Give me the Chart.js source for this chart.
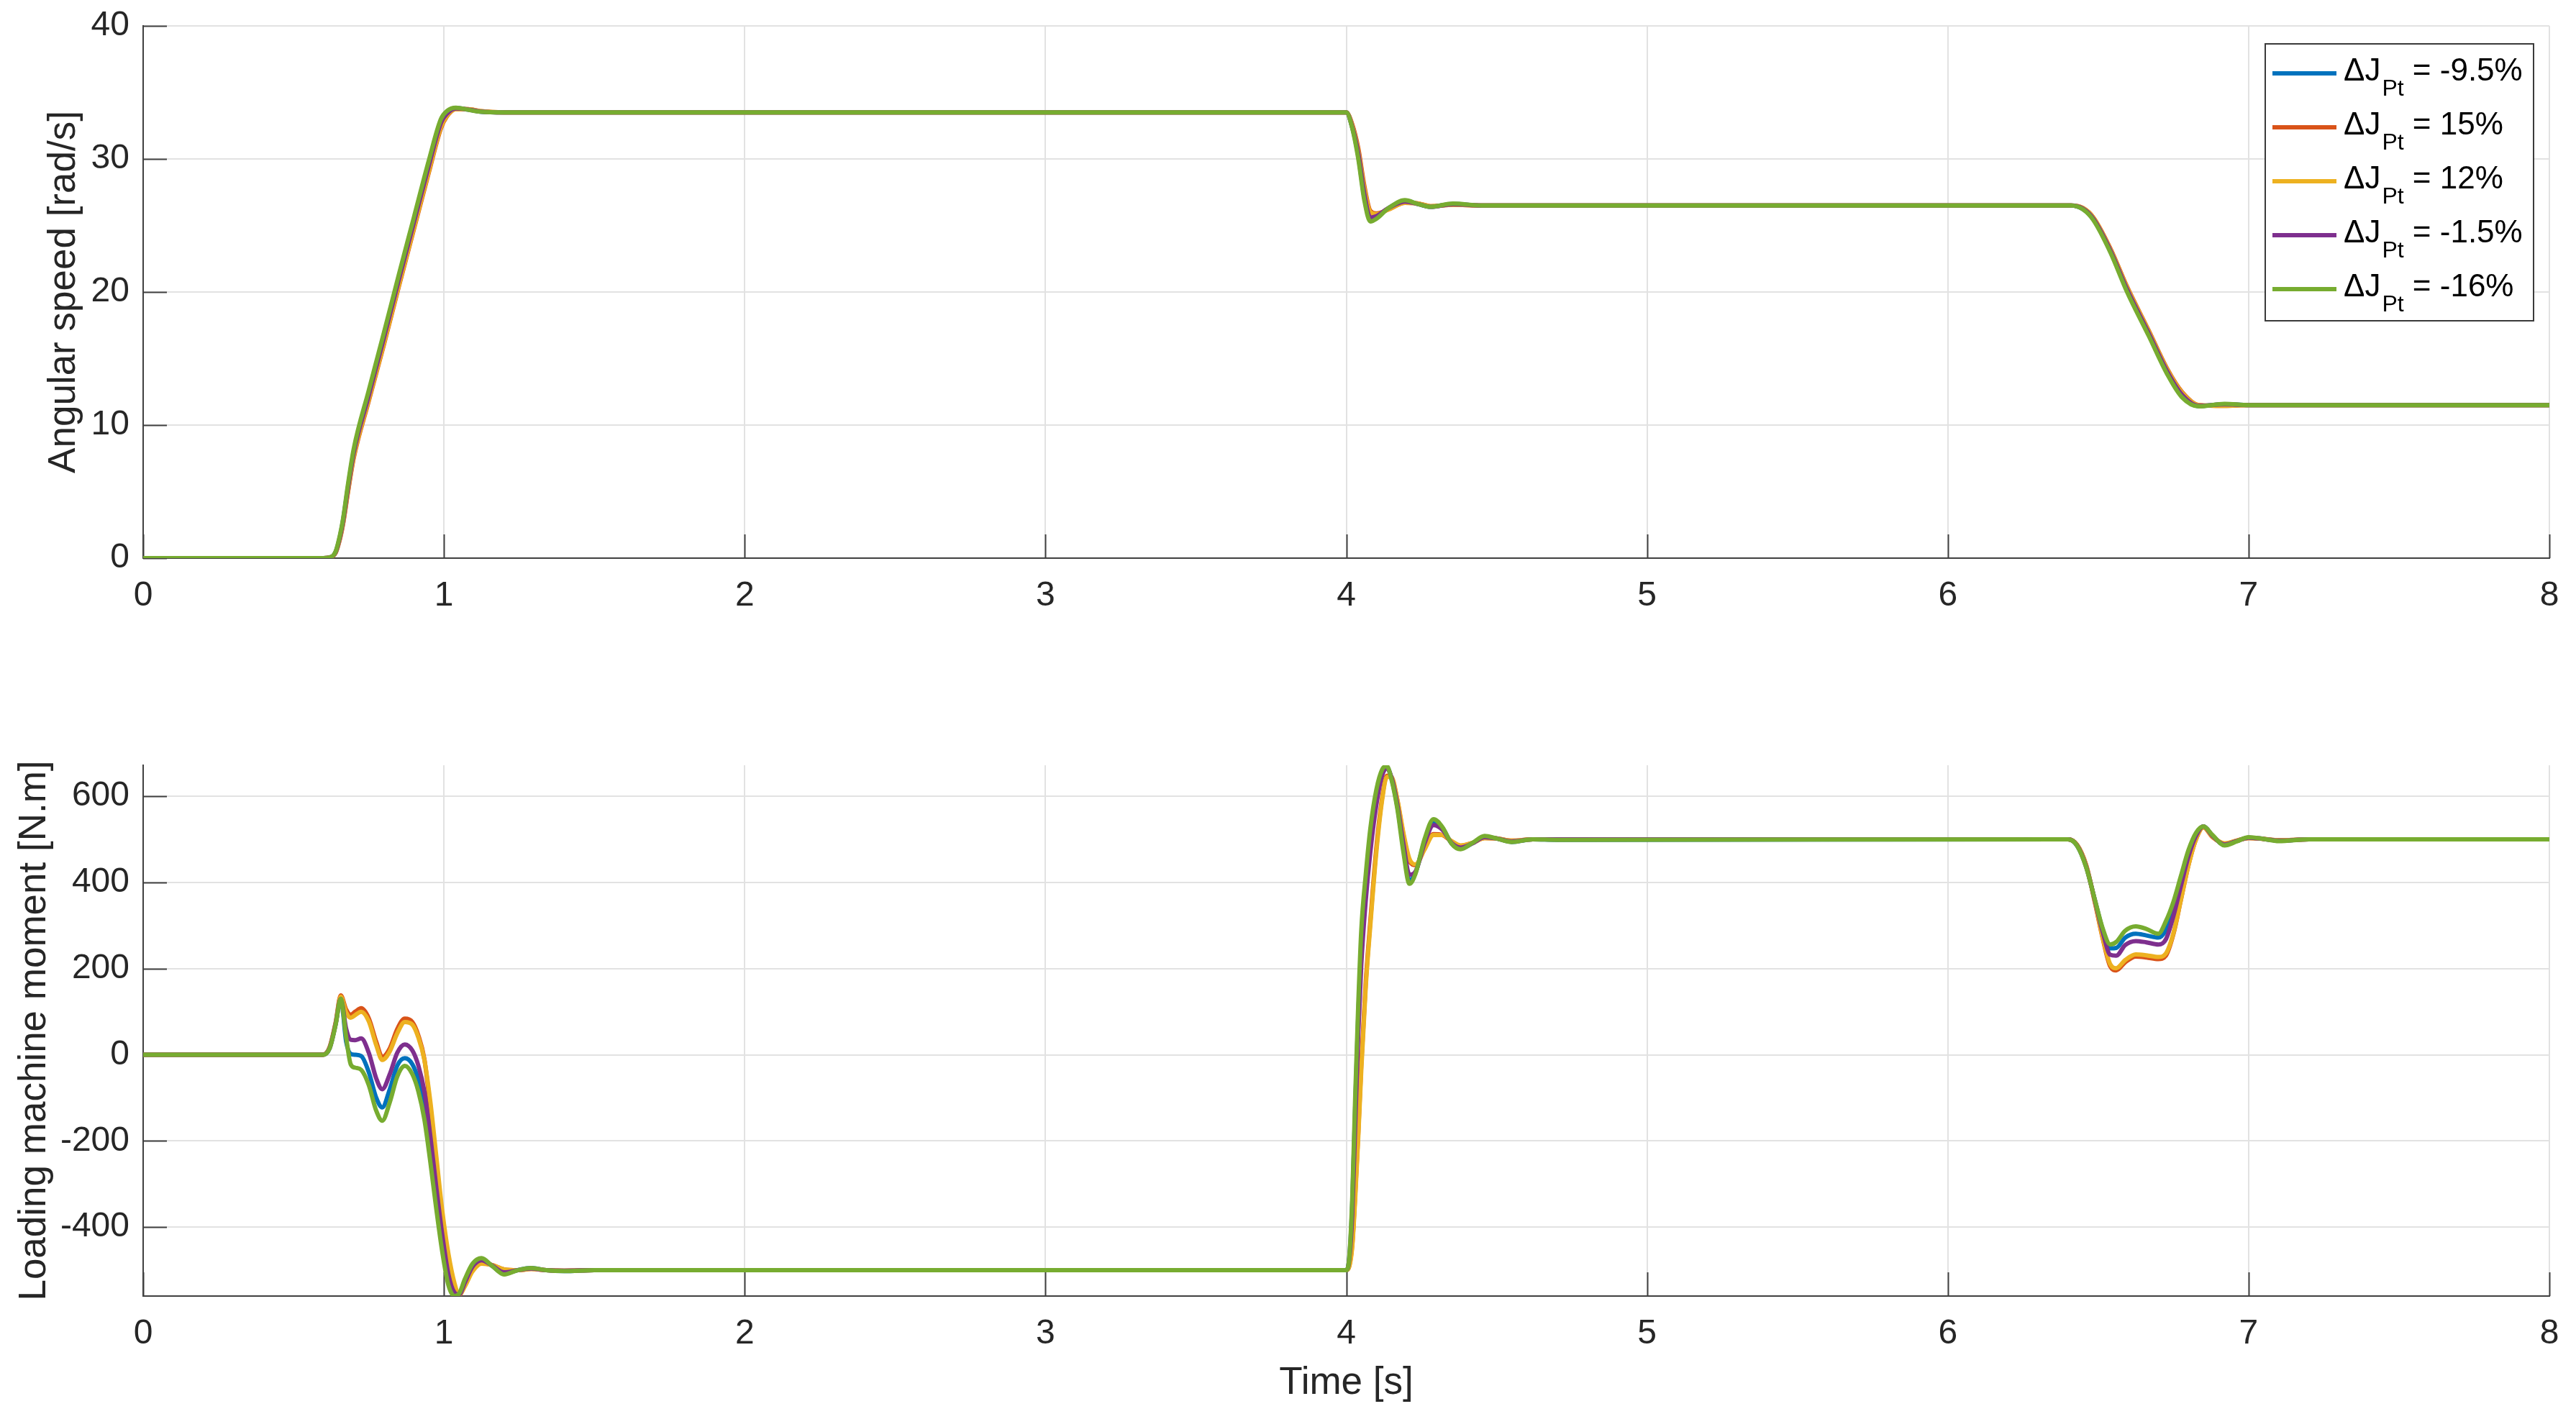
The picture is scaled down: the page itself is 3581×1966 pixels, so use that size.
<!DOCTYPE html>
<html>
<head>
<meta charset="utf-8">
<title>Angular speed / loading machine moment</title>
<script src="https://cdn.jsdelivr.net/npm/chart.js@4.4.1/dist/chart.umd.min.js"></script>
<style>
  html, body { margin: 0; padding: 0; background: #fff; overflow: hidden; }
  canvas { position: absolute; left: 0; }
  #speed { top: 0; }
  #moment { top: 983px; }
</style>
</head>
<body>
<canvas id="speed" width="3581" height="983"></canvas>
<canvas id="moment" width="3581" height="983"></canvas>
<script>
// --- Data ------------------------------------------------------------------
const seriesLabels = ['-9.5%', '15%', '12%', '-1.5%', '-16%'];
const seriesColors = ['#0072BD', '#D95319', '#EDB120', '#7E2F8E', '#77AC30'];

const timeTicks = [0, 1, 2, 3, 4, 5, 6, 7, 8];
const speedTicks = [0, 10, 20, 30, 40];
const momentTicks = [-400, -200, 0, 200, 400, 600];

// Angular speed [rad/s]
const tSpeed = [0, 0.60, 0.62, 0.64, 0.655, 0.665, 0.68, 0.70, 0.75, 0.80, 0.85, 0.90, 0.95, 0.99, 1.01,
  1.04, 1.08, 1.12, 1.2, 4.0, 4.02, 4.04, 4.06, 4.08, 4.10, 4.14, 4.195, 4.24, 4.28, 4.355, 4.45,
  6.41, 6.45, 6.484, 6.54, 6.596, 6.668, 6.73, 6.778, 6.835, 6.92, 7.0, 8.0];
const speedBlue = [0, 0, 0.05, 0.47, 1.7, 2.9, 5.2, 8.0, 12.4, 16.7, 21.1, 25.4, 29.7, 32.85, 33.5,
  33.82, 33.71, 33.56, 33.5, 33.5, 32.35, 30.2, 27.1, 25.45, 25.6, 26.3, 26.85, 26.6, 26.4, 26.62, 26.5,
  26.5, 26.22, 25.45, 23.1, 20.1, 16.8, 13.9, 12.2, 11.42, 11.57, 11.5, 11.5];
const speedOrange = [0, 0, 0.04, 0.4, 1.5, 2.6, 4.8, 7.5, 11.8, 16.0, 20.4, 24.7, 29.0, 32.3, 33.2,
  33.75, 33.75, 33.6, 33.5, 33.5, 32.6, 30.8, 28.0, 26.1, 25.9, 26.2, 26.7, 26.65, 26.45, 26.55, 26.5,
  26.5, 26.3, 25.6, 23.3, 20.4, 17.1, 14.2, 12.5, 11.5, 11.45, 11.5, 11.5];
const speedYellow = [0, 0, 0.04, 0.42, 1.55, 2.65, 4.9, 7.6, 11.9, 16.1, 20.5, 24.8, 29.1, 32.4, 33.25,
  33.75, 33.75, 33.6, 33.5, 33.5, 32.5, 30.6, 27.8, 26.0, 25.85, 26.2, 26.7, 26.65, 26.45, 26.55, 26.5,
  26.5, 26.3, 25.6, 23.25, 20.35, 17.05, 14.15, 12.45, 11.5, 11.45, 11.5, 11.5];
const speedPurple = [0, 0, 0.05, 0.45, 1.65, 2.8, 5.1, 7.9, 12.2, 16.5, 20.9, 25.2, 29.5, 32.7, 33.4,
  33.8, 33.72, 33.57, 33.5, 33.5, 32.4, 30.4, 27.4, 25.6, 25.7, 26.3, 26.8, 26.6, 26.4, 26.6, 26.5,
  26.5, 26.25, 25.5, 23.15, 20.2, 16.9, 14.0, 12.3, 11.45, 11.55, 11.5, 11.5];
const speedGreen = [0, 0, 0.05, 0.5, 1.8, 3.0, 5.4, 8.2, 12.6, 16.9, 21.3, 25.6, 29.9, 33.0, 33.6,
  33.85, 33.7, 33.55, 33.5, 33.5, 32.3, 30.0, 26.9, 25.3, 25.5, 26.3, 26.9, 26.6, 26.4, 26.65, 26.5,
  26.5, 26.2, 25.4, 23.0, 20.0, 16.7, 13.8, 12.1, 11.4, 11.6, 11.5, 11.5];

// Loading machine moment [N.m]
const tMoment = [0, 0.597, 0.62, 0.64, 0.657, 0.675, 0.69, 0.705, 0.725, 0.75, 0.775, 0.795, 0.82, 0.845,
  0.87, 0.895, 0.915, 0.935, 0.955, 0.975, 0.995, 1.015, 1.035, 1.05, 1.07, 1.095, 1.125, 1.16, 1.2,
  1.245, 1.29, 1.34, 1.4, 1.5,
  4.0, 4.01, 4.02, 4.03, 4.04, 4.05, 4.065, 4.08, 4.1, 4.12, 4.135, 4.15, 4.17, 4.19, 4.21, 4.23, 4.26,
  4.29, 4.32, 4.35, 4.38, 4.42, 4.46, 4.5, 4.55, 4.62, 4.7,
  6.4, 6.43, 6.46, 6.49, 6.515, 6.54, 6.56, 6.59, 6.625, 6.66, 6.7, 6.725, 6.75, 6.775, 6.8, 6.825,
  6.85, 6.88, 6.92, 6.96, 7.0, 7.05, 7.1, 7.2, 8.0];
const momentBlue = [0, 0, 15, 71, 132, 30, 2, 0, -3, -40, -100, -122, -80, -25, -8, -22, -58, -120,
  -225, -340, -445, -525, -558, -556, -524, -488, -474, -490, -508, -500, -495, -500, -502, -500,
  -500, -472, -345, -115, 95, 260, 400, 505, 605, 660, 668, 642, 575, 480, 405, 422, 496, 541, 526,
  491, 479, 491, 506, 502, 494, 500, 499,
  500, 485, 436, 356, 290, 247, 248, 272, 281, 277, 272, 290, 340, 408, 470, 512, 530, 509, 487, 496,
  504, 501, 497, 500, 500];
const momentOrange = [0, 0, 18, 75, 138, 105, 93, 100, 108, 85, 30, -5, 15, 60, 84, 76, 45, -10,
  -125, -255, -380, -478, -540, -558, -535, -500, -484, -488, -498, -500, -497, -500, -501, -500,
  -500, -490, -440, -320, -180, -20, 170, 310, 480, 600, 648, 645, 590, 510, 450, 440, 478, 512, 510,
  495, 485, 492, 503, 502, 497, 500, 500,
  500, 487, 440, 350, 270, 205, 196, 215, 228, 226, 222, 230, 280, 360, 440, 500, 528, 505, 490, 497,
  503, 501, 498, 500, 500];
const momentYellow = [0, 0, 17, 73, 135, 98, 86, 92, 100, 78, 22, -12, 8, 50, 76, 70, 40, -12,
  -110, -238, -365, -462, -530, -557, -537, -503, -485, -488, -498, -500, -497, -500, -501, -500,
  -500, -492, -445, -330, -190, -35, 160, 300, 470, 595, 645, 645, 592, 515, 455, 442, 476, 510, 510,
  496, 486, 492, 503, 502, 497, 500, 500,
  500, 487, 440, 352, 272, 210, 201, 220, 233, 231, 227, 235, 282, 360, 440, 500, 528, 506, 491, 497,
  503, 501, 498, 500, 500];
const momentPurple = [0, 0, 16, 72, 130, 60, 35, 34, 38, 5, -55, -80, -45, 5, 24, 10, -25, -85,
  -190, -310, -420, -510, -552, -557, -528, -492, -477, -489, -505, -500, -496, -500, -501, -500,
  -500, -475, -370, -160, 50, 210, 360, 470, 580, 650, 665, 645, 580, 490, 418, 425, 490, 533, 522,
  492, 481, 491, 505, 502, 495, 500, 500,
  500, 486, 437, 355, 285, 232, 230, 255, 264, 261, 256, 268, 322, 392, 460, 508, 530, 508, 488, 496,
  504, 501, 497, 500, 500];
const momentGreen = [0, 0, 15, 70, 130, 40, -22, -30, -35, -70, -130, -153, -110, -50, -26, -45, -85, -150,
  -250, -360, -460, -535, -560, -555, -520, -485, -472, -490, -510, -500, -495, -500, -502, -500,
  -500, -470, -330, -90, 120, 290, 420, 525, 615, 663, 670, 640, 570, 470, 397, 420, 500, 547, 528,
  490, 477, 492, 508, 502, 494, 500, 499,
  500, 485, 435, 357, 293, 256, 262, 288, 298, 292, 281, 310, 355, 415, 475, 515, 530, 510, 486, 495,
  505, 501, 496, 500, 500];

// --- Style -----------------------------------------------------------------
const Chart = window.Chart;
const FONT = '"Liberation Sans", Arial, Helvetica, sans-serif';
const TEXT = '#262626';
const AXIS = '#404040';
const GRID = '#e2e2e2';
const TICK_LEN = 33;
const LINE_W = 6;

Chart.defaults.font.family = FONT;
Chart.defaults.color = TEXT;

const toPoints = (t, vals) => t.map((x, i) => ({ x, y: vals[i] }));

// Chart.js pinta encima el dataset de menor `order`: el último (verde) queda arriba, como en MATLAB.
function datasets(t, rows) {
  return rows.map((vals, i) => ({
    label: seriesLabels[i],
    data: toPoints(t, vals),
    order: rows.length - i,
    borderColor: seriesColors[i],
    backgroundColor: seriesColors[i],
    borderWidth: LINE_W,
    pointRadius: 0,
    cubicInterpolationMode: 'monotone',
    fill: false,
  }));
}

// MATLAB-style ticks: drawn inward from the left and bottom axes.
const inwardTicks = {
  id: 'inwardTicks',
  beforeDatasetsDraw(chart) {
    const { ctx, chartArea: a, scales: { x, y } } = chart;
    ctx.save();
    ctx.strokeStyle = AXIS;
    ctx.lineWidth = 2;
    ctx.beginPath();
    y.ticks.forEach((t) => {
      const py = Math.round(y.getPixelForValue(t.value)) + 0.5;
      ctx.moveTo(a.left, py); ctx.lineTo(a.left + TICK_LEN, py);
    });
    x.ticks.forEach((t) => {
      const px = Math.round(x.getPixelForValue(t.value)) + 0.5;
      ctx.moveTo(px, a.bottom); ctx.lineTo(px, a.bottom - TICK_LEN);
    });
    ctx.stroke();
    ctx.restore();
  },
};

// Legend with ΔJ_Pt subscripts (Chart.js legend has no subscripts).
const jptLegend = {
  id: 'jptLegend',
  afterDatasetsDraw(chart, args, o) {
    if (!o.show) return;
    const { ctx } = chart;
    ctx.save();
    ctx.fillStyle = '#fff';
    ctx.fillRect(o.x, o.y, o.w, o.h);
    ctx.strokeStyle = '#3a3a3a';
    ctx.lineWidth = 2;
    ctx.strokeRect(o.x, o.y, o.w, o.h);
    ctx.textBaseline = 'alphabetic';
    ctx.textAlign = 'left';
    // orden del índice, no de dibujo
    [...chart.data.datasets].sort((a, b) => b.order - a.order).forEach((ds, i) => {
      const ly = o.y + 41 + i * 75;
      ctx.strokeStyle = ds.borderColor;
      ctx.lineWidth = LINE_W;
      ctx.beginPath();
      ctx.moveTo(o.x + 10, ly); ctx.lineTo(o.x + 99, ly);
      ctx.stroke();
      ctx.fillStyle = '#000';
      let tx = o.x + 109;
      ctx.font = `44px ${FONT}`;
      ctx.fillText('ΔJ', tx, ly + 10);
      tx += ctx.measureText('ΔJ').width + 2;
      ctx.font = `32px ${FONT}`;
      ctx.fillText('Pt', tx, ly + 31);
      tx += ctx.measureText('Pt').width;
      ctx.font = `44px ${FONT}`;
      ctx.fillText(' = ' + ds.label, tx, ly + 10);
    });
    ctx.restore();
  },
};

function axisX(height, title) {
  return {
    type: 'linear', min: 0, max: 8,
    afterBuildTicks: (s) => { s.ticks = timeTicks.map((v) => ({ value: v })); },
    afterFit: (s) => { s.height = height; s.paddingLeft = 0; s.paddingRight = 0; },
    ticks: { padding: 24, font: { size: 48 }, color: TEXT, maxRotation: 0 },
    grid: { color: GRID, lineWidth: 2, drawTicks: false },
    border: { color: AXIS, width: 2 },
    title: title
      ? { display: true, text: title, font: { size: 53 }, color: TEXT, padding: { top: 0, bottom: 11 } }
      : { display: false },
  };
}

function axisY(min, max, tickVals, title, titleOffset) {
  return {
    type: 'linear', min, max,
    afterBuildTicks: (s) => { s.ticks = tickVals.map((v) => ({ value: v })); },
    afterFit: (s) => { s.width = 199; s.paddingTop = 0; s.paddingBottom = 0; },
    ticks: { padding: 19, font: { size: 48 }, color: TEXT },
    grid: { color: GRID, lineWidth: 2, drawTicks: false },
    border: { color: AXIS, width: 2 },
    title: { display: true, text: title, font: { size: 53 }, color: TEXT, padding: { top: titleOffset, bottom: 0 } },
  };
}

function baseOptions(padTop, xAxis, yAxis, legend) {
  return {
    responsive: false,
    animation: false,
    devicePixelRatio: 1,
    layout: { padding: { top: padTop, right: 37, bottom: 0, left: 0 } },
    plugins: { legend: { display: false }, tooltip: { enabled: false }, jptLegend: legend },
    scales: { x: xAxis, y: yAxis },
  };
}

// --- Top: angular speed ----------------------------------------------------
new Chart(document.getElementById('speed'), {
  type: 'line',
  data: { datasets: datasets(tSpeed, [speedBlue, speedOrange, speedYellow, speedPurple, speedGreen]) },
  options: baseOptions(36, axisX(207), axisY(0, 40, speedTicks, 'Angular speed [rad/s]', 58),
    { show: true, x: 3149, y: 61, w: 373, h: 385 }),
  plugins: [inwardTicks, jptLegend],
});

// --- Bottom: loading machine moment -----------------------------------------
new Chart(document.getElementById('moment'), {
  type: 'line',
  data: { datasets: datasets(tMoment, [momentBlue, momentOrange, momentYellow, momentPurple, momentGreen]) },
  options: baseOptions(81, axisX(164, 'Time [s]'),
    axisY(-560, 672, momentTicks, 'Loading machine moment [N.m]', 17), { show: false }),
  plugins: [inwardTicks, jptLegend],
});
</script>
</body>
</html>
